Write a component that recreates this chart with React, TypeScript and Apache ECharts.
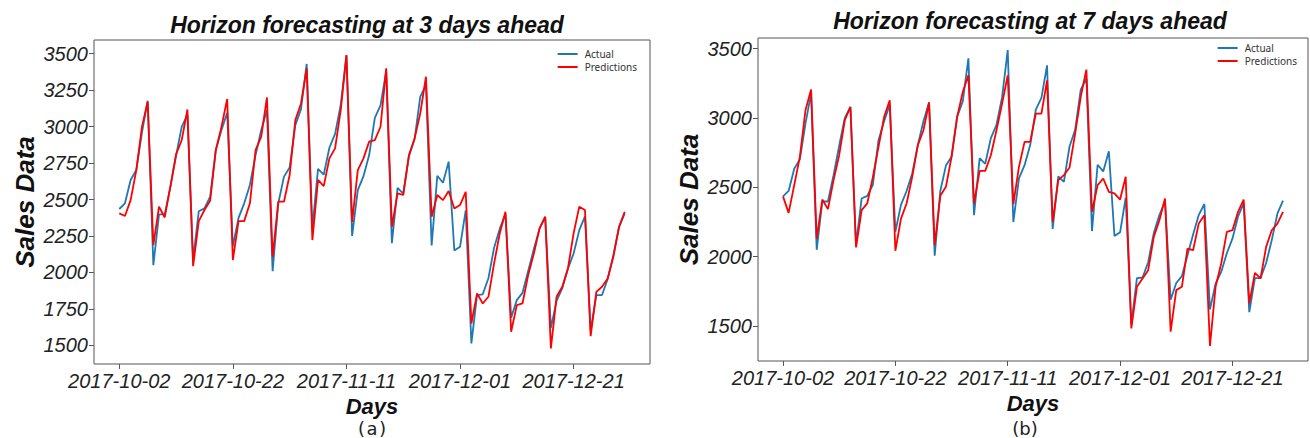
import React, { useEffect, useRef } from "react";
import * as echarts from "echarts";

// Daily sales, 2017-10-02 .. 2017-12-30 (90 days)
const actual = [
  2435, 2474, 2634, 2702, 2960, 3178, 2050, 2398, 2398, 2588,
  2800, 3000, 3080, 2085, 2420, 2439, 2519, 2840, 2977, 3095,
  2180, 2374, 2474, 2600, 2805, 2977, 3113, 2008, 2474, 2657,
  2720, 3010, 3120, 3430, 2300, 2710, 2670, 2855, 2950, 3150,
  3490, 2250, 2565, 2660, 2805, 3060, 3145, 3380, 2200, 2580,
  2540, 2795, 2915, 3205, 3285, 2185, 2663, 2615, 2760, 2150,
  2176, 2425, 1513, 1845, 1850, 1960, 2170, 2300, 2400, 1690,
  1810, 1860, 2010, 2160, 2300, 2380, 1620, 1805, 1890, 2025,
  2130, 2290, 2385, 1600, 1845, 1845, 1955, 2120, 2310, 2405,
];

const pred3 = [
  2405, 2387, 2496, 2702, 3000, 3170, 2188, 2451, 2377, 2588,
  2810, 2908, 3118, 2043, 2352, 2428, 2491, 2840, 3000, 3189,
  2085, 2352, 2352, 2474, 2839, 2931, 3200, 2107, 2485, 2485,
  2668, 3045, 3159, 3400, 2222, 2634, 2592, 2782, 2851, 3114,
  3490, 2347, 2702, 2782, 2897, 2908, 2999, 3400, 2313, 2542,
  2531, 2805, 2919, 3091, 3342, 2382, 2531, 2496, 2558, 2439,
  2462, 2553, 1650, 1856, 1787, 1833, 2062, 2268, 2416, 1593,
  1776, 1787, 1982, 2130, 2302, 2382, 1479, 1833, 1902, 2027,
  2268, 2451, 2428, 1563, 1867, 1902, 1959, 2107, 2313, 2416,
];

const pred7 = [
  2435, 2316, 2516, 2720, 3056, 3205, 2131, 2412, 2343, 2552,
  2732, 2984, 3080, 2067, 2336, 2384, 2576, 2792, 3008, 3128,
  2043, 2275, 2384, 2576, 2804, 2912, 3111, 2083, 2439, 2504,
  2720, 3008, 3188, 3308, 2384, 2619, 2619, 2732, 2912, 3104,
  3308, 2379, 2648, 2828, 2828, 3032, 3032, 3272, 2251, 2552,
  2588, 2643, 2888, 3152, 3349, 2324, 2516, 2564, 2468, 2456,
  2412, 2576, 1483, 1783, 1843, 1903, 2143, 2263, 2420, 1459,
  1759, 1783, 2059, 2047, 2239, 2299, 1356, 1783, 1951, 2179,
  2191, 2324, 2412, 1663, 1884, 1843, 2071, 2191, 2239, 2324,
];

const xTickDays = [0, 20, 40, 60, 80];
const xTickLabels = ["2017-10-02", "2017-10-22", "2017-11-11", "2017-12-01", "2017-12-21"];
const yTicksA = [1500, 1750, 2000, 2250, 2500, 2750, 3000, 3250, 3500];
const yTicksB = [1500, 2000, 2500, 3000, 3500];

const FONT = "Liberation Sans";

function pairs(vals: number[]) {
  return vals.map((v, i) => [i, v]);
}

function xAxisCfg(gridIndex: number) {
  return {
    type: "value",
    gridIndex,
    min: -4.45,
    max: 93.45,
    axisLine: { show: false, onZero: false },
    splitLine: { show: false },
    axisTick: {
      show: true,
      length: 5,
      customValues: xTickDays,
      lineStyle: { color: "#555", width: 1 },
    },
    axisLabel: {
      customValues: xTickDays,
      formatter: (v: number) => xTickLabels[xTickDays.indexOf(v)] ?? "",
      fontSize: 20,
      fontStyle: "italic",
      fontFamily: FONT,
      color: "#222",
      margin: 7,
    },
    name: "Days",
    nameLocation: "middle",
    nameGap: 16,
    nameTextStyle: {
      fontSize: 22,
      fontWeight: "bold",
      fontStyle: "italic",
      fontFamily: FONT,
      color: "#111",
    },
  };
}

function yAxisCfg(gridIndex: number, min: number, max: number, ticks: number[]) {
  return {
    type: "value",
    gridIndex,
    min,
    max,
    axisLine: { show: false, onZero: false },
    splitLine: { show: false },
    axisTick: {
      show: true,
      length: 5,
      customValues: ticks,
      lineStyle: { color: "#555", width: 1 },
    },
    axisLabel: {
      customValues: ticks,
      formatter: (v: number) => String(v),
      fontSize: 20,
      fontStyle: "italic",
      fontFamily: FONT,
      color: "#222",
      margin: 6,
    },
    name: "Sales Data",
    nameLocation: "middle",
    nameRotate: 90,
    nameGap: 56,
    nameTextStyle: {
      fontSize: 26,
      fontWeight: "bold",
      fontStyle: "italic",
      fontFamily: FONT,
      color: "#111",
    },
  };
}

function legendCfg(right: number, top: number) {
  return {
    right,
    top,
    orient: "vertical",
    icon: "rect",
    itemWidth: 20,
    itemHeight: 2,
    itemGap: 3,
    data: ["Actual", "Predictions"],
    textStyle: { fontSize: 10, fontFamily: "Noto Sans", color: "#333", padding: [0, 0, 0, 2] },
  };
}

export default function App() {
  const ref = useRef<HTMLDivElement>(null);

  useEffect(() => {
    if (!ref.current) return;
    const chart = echarts.init(ref.current, null, { renderer: "svg" });
    const titleStyle = {
      fontSize: 23,
      fontWeight: "bold",
      fontStyle: "italic",
      fontFamily: FONT,
      fill: "#111",
      textAlign: "center",
      textVerticalAlign: "middle",
    };
    chart.setOption({
      animation: false,
      backgroundColor: "#fff",
      grid: [
        { left: 94, top: 40, width: 556, height: 324, show: true, borderColor: "#555", borderWidth: 1, backgroundColor: "transparent" },
        { left: 758, top: 38, width: 550, height: 323, show: true, borderColor: "#555", borderWidth: 1, backgroundColor: "transparent" },
      ],
      xAxis: [xAxisCfg(0), xAxisCfg(1)],
      yAxis: [yAxisCfg(0, 1372, 3594, yTicksA), yAxisCfg(1, 1248, 3577, yTicksB)],
      legend: [legendCfg(668, 44), legendCfg(8, 38)],
      series: [
        { name: "Actual", type: "line", xAxisIndex: 0, yAxisIndex: 0, data: pairs(actual), showSymbol: false, lineStyle: { color: "#1f77b4", width: 1.8 }, itemStyle: { color: "#1f77b4" } },
        { name: "Predictions", type: "line", xAxisIndex: 0, yAxisIndex: 0, data: pairs(pred3), showSymbol: false, lineStyle: { color: "#ff0000", width: 1.8 }, itemStyle: { color: "#ff0000" } },
        { name: "Actual", type: "line", xAxisIndex: 1, yAxisIndex: 1, data: pairs(actual), showSymbol: false, lineStyle: { color: "#1f77b4", width: 1.8 }, itemStyle: { color: "#1f77b4" } },
        { name: "Predictions", type: "line", xAxisIndex: 1, yAxisIndex: 1, data: pairs(pred7), showSymbol: false, lineStyle: { color: "#ff0000", width: 1.8 }, itemStyle: { color: "#ff0000" } },
      ],
      graphic: [
        { type: "text", x: 367, y: 25, style: { ...titleStyle, text: "Horizon forecasting at 3 days ahead" } },
        { type: "text", x: 1030, y: 21, style: { ...titleStyle, text: "Horizon forecasting at 7 days ahead" } },
        { type: "text", x: 372, y: 428, style: { text: "(a)", fontSize: 18, fontFamily: "DejaVu Sans Mono", fill: "#222", textAlign: "center", textVerticalAlign: "middle" } },
        { type: "text", x: 1025, y: 428, style: { text: "(b)", fontSize: 18, fontFamily: "DejaVu Sans", fill: "#222", textAlign: "center", textVerticalAlign: "middle" } },
      ],
    });
    return () => chart.dispose();
  }, []);

  return (
    <div
      ref={ref}
      style={{ position: "fixed", left: 0, top: 0, width: 1310, height: 438, background: "#fff" }}
    />
  );
}
